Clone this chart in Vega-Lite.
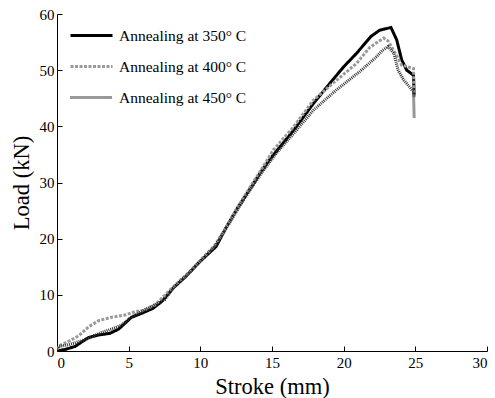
{
  "$schema": "https://vega.github.io/schema/vega-lite/v6.json",
  "width": 430,
  "height": 337,
  "autosize": {"type": "none"},
  "padding": {"left": 57, "top": 14, "right": 8, "bottom": 47},
  "background": "white",
  "config": {
    "view": {"stroke": null},
    "font": "Liberation Serif",
    "axis": {
      "labelFont": "Liberation Serif",
      "titleFont": "Liberation Serif",
      "labelFontSize": 15,
      "titleFontSize": 22.5,
      "titleFontWeight": "normal",
      "labelColor": "black",
      "titleColor": "black",
      "domainColor": "black",
      "tickColor": "black",
      "grid": false,
      "tickSize": -5,
      "domainWidth": 1,
      "tickWidth": 1
    },
    "legend": {
      "labelFont": "Liberation Serif",
      "labelFontSize": 15.5,
      "labelColor": "black"
    }
  },
  "data": {
    "values": [
      {"s": "Annealing at 350° C", "x": 0, "y": 0},
      {"s": "Annealing at 350° C", "x": 0.6, "y": 0.3},
      {"s": "Annealing at 350° C", "x": 1.25, "y": 0.8},
      {"s": "Annealing at 350° C", "x": 2.2, "y": 2.4},
      {"s": "Annealing at 350° C", "x": 2.9, "y": 2.85},
      {"s": "Annealing at 350° C", "x": 3.7, "y": 3.15},
      {"s": "Annealing at 350° C", "x": 4.3, "y": 3.9},
      {"s": "Annealing at 350° C", "x": 5.2, "y": 6.0},
      {"s": "Annealing at 350° C", "x": 5.9, "y": 6.7},
      {"s": "Annealing at 350° C", "x": 6.7, "y": 7.6},
      {"s": "Annealing at 350° C", "x": 7.3, "y": 8.8},
      {"s": "Annealing at 350° C", "x": 8.1, "y": 11.2},
      {"s": "Annealing at 350° C", "x": 9, "y": 13.3},
      {"s": "Annealing at 350° C", "x": 10, "y": 16.0},
      {"s": "Annealing at 350° C", "x": 11.1, "y": 18.6},
      {"s": "Annealing at 350° C", "x": 11.8, "y": 22.0},
      {"s": "Annealing at 350° C", "x": 12.6, "y": 25.5},
      {"s": "Annealing at 350° C", "x": 13.5, "y": 29.0},
      {"s": "Annealing at 350° C", "x": 14.2, "y": 31.8},
      {"s": "Annealing at 350° C", "x": 14.9, "y": 34.3},
      {"s": "Annealing at 350° C", "x": 16.5, "y": 39.3},
      {"s": "Annealing at 350° C", "x": 17.9, "y": 44.1},
      {"s": "Annealing at 350° C", "x": 19.05, "y": 47.7},
      {"s": "Annealing at 350° C", "x": 20, "y": 50.6},
      {"s": "Annealing at 350° C", "x": 20.9, "y": 53.0},
      {"s": "Annealing at 350° C", "x": 21.6, "y": 55.1},
      {"s": "Annealing at 350° C", "x": 21.9, "y": 56.0},
      {"s": "Annealing at 350° C", "x": 22.5, "y": 57.1},
      {"s": "Annealing at 350° C", "x": 23.3, "y": 57.6},
      {"s": "Annealing at 350° C", "x": 23.7, "y": 55.4},
      {"s": "Annealing at 350° C", "x": 24.05, "y": 51.8},
      {"s": "Annealing at 350° C", "x": 24.4, "y": 50.0},
      {"s": "Annealing at 350° C", "x": 24.87, "y": 49.1},
      {"s": "Annealing at 350° C", "x": 24.92, "y": 45.5},
      {"s": "Annealing at 400° C", "x": 0, "y": 0.3},
      {"s": "Annealing at 400° C", "x": 0.2, "y": 1.0},
      {"s": "Annealing at 400° C", "x": 0.8, "y": 1.7},
      {"s": "Annealing at 400° C", "x": 1.5, "y": 2.7},
      {"s": "Annealing at 400° C", "x": 2.2, "y": 4.3},
      {"s": "Annealing at 400° C", "x": 2.9, "y": 5.4},
      {"s": "Annealing at 400° C", "x": 3.8, "y": 6.0},
      {"s": "Annealing at 400° C", "x": 4.75, "y": 6.4},
      {"s": "Annealing at 400° C", "x": 5.44, "y": 7.0},
      {"s": "Annealing at 400° C", "x": 6.1, "y": 7.3},
      {"s": "Annealing at 400° C", "x": 6.84, "y": 8.2},
      {"s": "Annealing at 400° C", "x": 8.1, "y": 11.4},
      {"s": "Annealing at 400° C", "x": 9, "y": 13.5},
      {"s": "Annealing at 400° C", "x": 10, "y": 16.1},
      {"s": "Annealing at 400° C", "x": 11, "y": 18.8},
      {"s": "Annealing at 400° C", "x": 11.8, "y": 22.0},
      {"s": "Annealing at 400° C", "x": 12.6, "y": 25.6},
      {"s": "Annealing at 400° C", "x": 13.5, "y": 29.3},
      {"s": "Annealing at 400° C", "x": 14.3, "y": 32.5},
      {"s": "Annealing at 400° C", "x": 15.1, "y": 35.8},
      {"s": "Annealing at 400° C", "x": 16.5, "y": 39.9},
      {"s": "Annealing at 400° C", "x": 17.9, "y": 44.7},
      {"s": "Annealing at 400° C", "x": 19.5, "y": 48.2},
      {"s": "Annealing at 400° C", "x": 20.9, "y": 51.2},
      {"s": "Annealing at 400° C", "x": 21.8, "y": 54.0},
      {"s": "Annealing at 400° C", "x": 22.3, "y": 54.9},
      {"s": "Annealing at 400° C", "x": 22.8, "y": 55.7},
      {"s": "Annealing at 400° C", "x": 23.1, "y": 55.2},
      {"s": "Annealing at 400° C", "x": 23.6, "y": 53.0},
      {"s": "Annealing at 400° C", "x": 24.05, "y": 50.9},
      {"s": "Annealing at 400° C", "x": 24.87, "y": 50.3},
      {"s": "Annealing at 400° C", "x": 24.92, "y": 45.0},
      {"s": "Annealing at 450° C", "x": 0, "y": 0.3},
      {"s": "Annealing at 450° C", "x": 0.1, "y": 0.8},
      {"s": "Annealing at 450° C", "x": 0.8, "y": 1.1},
      {"s": "Annealing at 450° C", "x": 1.95, "y": 2.0},
      {"s": "Annealing at 450° C", "x": 2.9, "y": 3.1},
      {"s": "Annealing at 450° C", "x": 3.8, "y": 3.9},
      {"s": "Annealing at 450° C", "x": 4.5, "y": 4.6},
      {"s": "Annealing at 450° C", "x": 5.2, "y": 6.1},
      {"s": "Annealing at 450° C", "x": 6.1, "y": 7.3},
      {"s": "Annealing at 450° C", "x": 7.5, "y": 9.1},
      {"s": "Annealing at 450° C", "x": 8.2, "y": 11.5},
      {"s": "Annealing at 450° C", "x": 9, "y": 13.4},
      {"s": "Annealing at 450° C", "x": 10, "y": 16.0},
      {"s": "Annealing at 450° C", "x": 11, "y": 18.6},
      {"s": "Annealing at 450° C", "x": 11.8, "y": 21.8},
      {"s": "Annealing at 450° C", "x": 12.6, "y": 25.2},
      {"s": "Annealing at 450° C", "x": 13.5, "y": 28.8},
      {"s": "Annealing at 450° C", "x": 14.3, "y": 31.8},
      {"s": "Annealing at 450° C", "x": 15.3, "y": 35.2},
      {"s": "Annealing at 450° C", "x": 16.5, "y": 38.7},
      {"s": "Annealing at 450° C", "x": 17.9, "y": 42.9},
      {"s": "Annealing at 450° C", "x": 19.5, "y": 46.5},
      {"s": "Annealing at 450° C", "x": 21.1, "y": 49.7},
      {"s": "Annealing at 450° C", "x": 22.3, "y": 52.4},
      {"s": "Annealing at 450° C", "x": 22.7, "y": 53.5},
      {"s": "Annealing at 450° C", "x": 23.1, "y": 54.2},
      {"s": "Annealing at 450° C", "x": 23.5, "y": 53.0},
      {"s": "Annealing at 450° C", "x": 23.8, "y": 50.0},
      {"s": "Annealing at 450° C", "x": 24.2, "y": 48.2},
      {"s": "Annealing at 450° C", "x": 24.87, "y": 46.2},
      {"s": "Annealing at 450° C", "x": 24.92, "y": 41.4}
    ]
  },
  "mark": {"type": "line", "strokeWidth": 3, "clip": true},
  "encoding": {
    "x": {
      "field": "x", "type": "quantitative",
      "scale": {"domain": [0, 30], "nice": false},
      "axis": {"values": [0, 5, 10, 15, 20, 25, 30], "title": "Stroke (mm)", "labelPadding": 9, "titlePadding": 5}
    },
    "y": {
      "field": "y", "type": "quantitative",
      "scale": {"domain": [0, 60], "nice": false},
      "axis": {"values": [0, 10, 20, 30, 40, 50, 60], "title": "Load (kN)", "labelPadding": 8, "titlePadding": 6}
    },
    "color": {
      "field": "s", "type": "nominal",
      "scale": {"range": ["black", "#9a9a9a", "#333333"]},
      "legend": {
        "title": null,
        "orient": "none",
        "legendX": 12,
        "legendY": -1,
        "symbolType": "stroke",
        "symbolSize": 1764,
        "symbolStrokeWidth": 3,
        "labelOffset": 5,
        "rowPadding": -17
      }
    },
    "strokeDash": {
      "field": "s", "type": "nominal",
      "scale": {"range": [[1, 0], [3, 1.5], [1, 1]]},
      "legend": {
        "title": null,
        "orient": "none",
        "legendX": 12,
        "legendY": -1,
        "symbolType": "stroke",
        "symbolSize": 1764,
        "symbolStrokeWidth": 3,
        "labelOffset": 5,
        "rowPadding": -17
      }
    }
  }
}
